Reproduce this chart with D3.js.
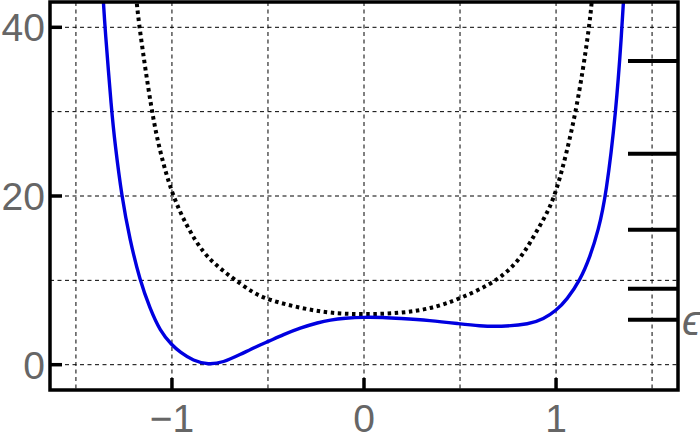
<!DOCTYPE html>
<html>
<head>
<meta charset="utf-8">
<script src="https://cdn.jsdelivr.net/npm/d3@7"></script>
<style>
  html, body { margin: 0; padding: 0; background: #fff; }
  svg { display: block; }
</style>
</head>
<body>
<svg id="chart" width="700" height="440"></svg>
<script>
// ---- data ----
const blueX = [-1.37, -1.358, -1.349, -1.314, -1.297, -1.262, -1.219, -1.167, -1.115, -1.062, -1.0, -0.958, -0.889, -0.811, -0.733, -0.646, -0.559, -0.498, -0.42, -0.333, -0.238, -0.177, -0.1, 0.0, 0.1, 0.18, 0.344, 0.5, 0.6, 0.708, 0.864, 0.934, 1.0, 1.056, 1.125, 1.177, 1.22, 1.26, 1.3125, 1.342, 1.351, 1.36];
const blueY = [48, 43.4, 40, 30, 26.3, 20, 14.8, 10, 6.7, 4.0, 2.3, 1.5, 0.45, 0.0, 0.27, 1.19, 2.17, 2.76, 3.56, 4.35, 5.0, 5.3, 5.52, 5.64, 5.6, 5.5, 5.25, 4.85, 4.6, 4.5, 4.8, 5.4, 6.4, 7.7, 10.0, 12.8, 15.9, 20, 30, 39.5, 43, 47];

const dotX = [-1.2, -1.184, -1.17, -1.106, -1.062, -1.0, -0.923, -0.837, -0.75, -0.68, -0.576, -0.5, -0.33, -0.177, 0.0, 0.188, 0.344, 0.5, 0.708, 0.813, 0.864, 0.934, 1.0, 1.108, 1.173, 1.186, 1.2];
const dotY = [47, 43, 40, 30, 25.2, 20.2, 16.4, 13.2, 11.4, 10.2, 8.5, 7.7, 6.7, 6.1, 5.95, 6.1, 6.6, 7.8, 10.06, 12.6, 14.4, 17.2, 20, 30, 40, 43, 47];

const levels = [36, 25, 16, 9, 5.33];

const xTicks = [-1, 0, 1];
const xTickLabels = ["\u22121", "0", "1"];
const yTicks = [0, 20, 40];
const yTickLabels = ["0", "20", "40"];
const xGrid = [-1.5, -1, -0.5, 0, 0.5, 1, 1.5];
const yGrid = [0, 10, 20, 30, 40];
const levelLabel = "\u03F5";

// ---- layout ----
const L = 50, R = 678, T = 2, B = 390;
const svg = d3.select("#chart");
const x = d3.scaleLinear().domain([-1.635, 1.635]).range([L, R]);
const y = d3.scaleLinear().domain([-3, 43]).range([B, T]);
const FONT = "'Liberation Sans', Arial, sans-serif";

svg.append("defs").append("clipPath").attr("id", "clip")
  .append("rect").attr("x", L).attr("y", T).attr("width", R - L).attr("height", B - T);

// grid
const grid = svg.append("g");
grid.selectAll("line.gx").data(xGrid).join("line")
  .attr("x1", d => x(d)).attr("x2", d => x(d)).attr("y1", T).attr("y2", B)
  .attr("stroke", "#000").attr("stroke-width", 1).attr("stroke-dasharray", "4,3.5");
grid.selectAll("line.gy").data(yGrid).join("line")
  .attr("y1", d => y(d)).attr("y2", d => y(d)).attr("x1", L).attr("x2", R)
  .attr("stroke", "#000").attr("stroke-width", 1).attr("stroke-dasharray", "4,3.5");

// curves
const line = d3.line().x(d => x(d[0])).y(d => y(d[1])).curve(d3.curveBasis);
const plot = svg.append("g").attr("clip-path", "url(#clip)");
plot.append("path").datum(dotX.map((v, i) => [v, dotY[i]]))
  .attr("d", line).attr("fill", "none").attr("stroke", "#000")
  .attr("stroke-width", 4).attr("stroke-dasharray", "3.5,3.6");
plot.append("path").datum(blueX.map((v, i) => [v, blueY[i]]))
  .attr("d", line).attr("fill", "none").attr("stroke", "#0000e0")
  .attr("stroke-width", 3.4);

// energy levels
svg.append("g").selectAll("line").data(levels).join("line")
  .attr("x1", 628).attr("x2", R).attr("y1", d => y(d)).attr("y2", d => y(d))
  .attr("stroke", "#000").attr("stroke-width", 4);

svg.append("text").attr("x", 682).attr("y", y(levels[levels.length - 1]) + 15)
  .attr("font-family", FONT).attr("font-size", 42)
  .attr("font-style", "italic").attr("fill", "#666").text(levelLabel);

// frame
svg.append("rect").attr("x", L).attr("y", T).attr("width", R - L).attr("height", B - T)
  .attr("fill", "none").attr("stroke", "#000").attr("stroke-width", 3.5);

// ticks
svg.append("g").selectAll("line").data(xTicks).join("line")
  .attr("x1", d => x(d)).attr("x2", d => x(d)).attr("y1", B).attr("y2", B - 12)
  .attr("stroke", "#000").attr("stroke-width", 3.5);
svg.append("g").selectAll("line").data(yTicks).join("line")
  .attr("y1", d => y(d)).attr("y2", d => y(d)).attr("x1", L).attr("x2", L + 12)
  .attr("stroke", "#000").attr("stroke-width", 3.5);

// tick labels
svg.append("g").selectAll("text").data(xTicks).join("text")
  .attr("x", d => x(d)).attr("y", 432).attr("text-anchor", "middle")
  .attr("font-family", FONT).attr("font-size", 39)
  .attr("fill", "#666").text((d, i) => xTickLabels[i]);
svg.append("g").selectAll("text").data(yTicks).join("text")
  .attr("x", 45).attr("y", d => y(d) + 14).attr("text-anchor", "end")
  .attr("font-family", FONT).attr("font-size", 39)
  .attr("fill", "#666").text((d, i) => yTickLabels[i]);
</script>
</body>
</html>
